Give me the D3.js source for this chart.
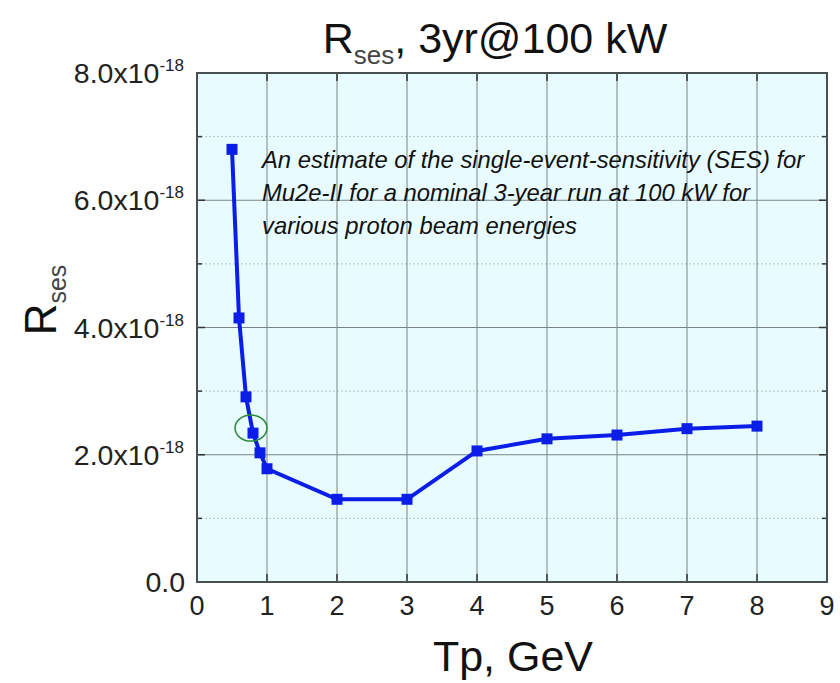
<!DOCTYPE html>
<html><head><meta charset="utf-8">
<script src="https://cdn.jsdelivr.net/npm/d3@7"></script>
<style>body{margin:0;background:#fff;}svg{display:block;font-family:"Liberation Sans",Arial,sans-serif;}</style>
</head><body>
<svg id="c" width="840" height="683"></svg>
<script>
const tp = [0.5, 0.6, 0.7, 0.8, 0.9, 1.0, 2, 3, 4, 5, 6, 7, 8];
const rses = [6.8, 4.15, 2.91, 2.34, 2.03, 1.78, 1.30, 1.30, 2.06, 2.25, 2.31, 2.41, 2.45]; // x10^-18
const xTicks = [0,1,2,3,4,5,6,7,8,9];
const yMajor = [0,2,4,6,8];
const yMinor = [1,3,5,7];
const highlighted = 0.8;
const noteLines = ["An estimate of the single-event-sensitivity (SES) for",
  "Mu2e-II for a nominal 3-year run at 100 kW for",
  "various proton beam energies"];

const svg = d3.select("#c");
const L=197, R=827, T=73, B=582;
const x = d3.scaleLinear().domain([0,9]).range([L,R]);
const y = d3.scaleLinear().domain([0,8]).range([B,T]);

svg.append("rect").attr("x",L).attr("y",T).attr("width",R-L).attr("height",B-T).attr("fill","#e8fcff");

// minor y grid dotted
svg.selectAll(".ymin").data(yMinor).join("line")
  .attr("x1",L).attr("x2",R).attr("y1",d=>y(d)).attr("y2",d=>y(d))
  .attr("stroke","#b8c4c8").attr("stroke-width",1).attr("stroke-dasharray","2,2");
// major grid
svg.selectAll(".ymaj").data(yMajor.slice(1,-1)).join("line")
  .attr("x1",L).attr("x2",R).attr("y1",d=>y(d)).attr("y2",d=>y(d))
  .attr("stroke","#7a8484").attr("stroke-width",1);
svg.selectAll(".xmaj").data(xTicks.slice(1,-1)).join("line")
  .attr("x1",d=>x(d)).attr("x2",d=>x(d)).attr("y1",T).attr("y2",B)
  .attr("stroke","#7a8484").attr("stroke-width",1);

// ticks (inside)
const tk = svg.append("g").attr("stroke","#333").attr("stroke-width",1.5);
xTicks.forEach(d=>{
  tk.append("line").attr("x1",x(d)).attr("x2",x(d)).attr("y1",B).attr("y2",B-8);
  tk.append("line").attr("x1",x(d)).attr("x2",x(d)).attr("y1",T).attr("y2",T+8);
});
yMajor.concat(yMinor).forEach(d=>{
  const len = yMajor.includes(d)?8:5;
  tk.append("line").attr("x1",L).attr("x2",L+len).attr("y1",y(d)).attr("y2",y(d));
  tk.append("line").attr("x1",R).attr("x2",R-len).attr("y1",y(d)).attr("y2",y(d));
});

svg.append("rect").attr("x",L).attr("y",T).attr("width",R-L).attr("height",B-T)
  .attr("fill","none").attr("stroke","#4a5050").attr("stroke-width",2);

// line
const pts = tp.map((d,i)=>[d,rses[i]]);
svg.append("path").datum(pts)
  .attr("d",d3.line().x(d=>x(d[0])).y(d=>y(d[1])))
  .attr("fill","none").attr("stroke","#0a1ee8").attr("stroke-width",4);
svg.selectAll(".pt").data(pts).join("rect")
  .attr("x",d=>x(d[0])-5.5).attr("y",d=>y(d[1])-5.5).attr("width",11).attr("height",11)
  .attr("fill","#0a1ee8");

// green circle
const hi = pts.find(d=>d[0]===highlighted);
svg.append("ellipse").attr("cx",x(hi[0])-2).attr("cy",y(hi[1])-5).attr("rx",16).attr("ry",13)
  .attr("fill","none").attr("stroke","#2a8a3a").attr("stroke-width",1.5);

// x tick labels
svg.selectAll(".xl").data(xTicks).join("text")
  .attr("x",d=>x(d)).attr("y",615).attr("text-anchor","middle")
  .attr("font-size",27).attr("fill","#222").text(d=>d);

// y tick labels
yMajor.forEach(d=>{
  const t = svg.append("text").attr("x",d===0?185:184).attr("y",y(d)+10).attr("text-anchor","end")
    .attr("font-size",28.5).attr("fill","#222");
  if(d===0){ t.text("0.0"); }
  else {
    t.append("tspan").text(d.toFixed(1)+"x10");
    t.append("tspan").attr("dy",-12).attr("font-size",17).text("-18");
  }
});

// title
const title = svg.append("text").attr("x",495).attr("y",53).attr("text-anchor","middle")
  .attr("font-size",43).attr("fill","#111");
title.append("tspan").text("R");
title.append("tspan").attr("dy",11).attr("font-size",26).attr("fill","#444").text("ses");
title.append("tspan").attr("dy",-11).text(", 3yr@100 kW");

// y label
const yl = svg.append("text").attr("transform","translate(56,300) rotate(-90)")
  .attr("text-anchor","middle").attr("font-size",44).attr("fill","#111");
yl.append("tspan").text("R");
yl.append("tspan").attr("dy",10).attr("font-size",25).attr("fill","#444").text("ses");

// x label
svg.append("text").attr("x",513).attr("y",671).attr("text-anchor","middle")
  .attr("font-size",43).attr("fill","#111").text("Tp, GeV");

// annotation
svg.selectAll(".note").data(noteLines).join("text")
  .attr("x",262).attr("y",(d,i)=>168+i*33).attr("font-size",23.8)
  .attr("font-style","italic").attr("fill","#111").text(d=>d);
</script>
</body></html>
